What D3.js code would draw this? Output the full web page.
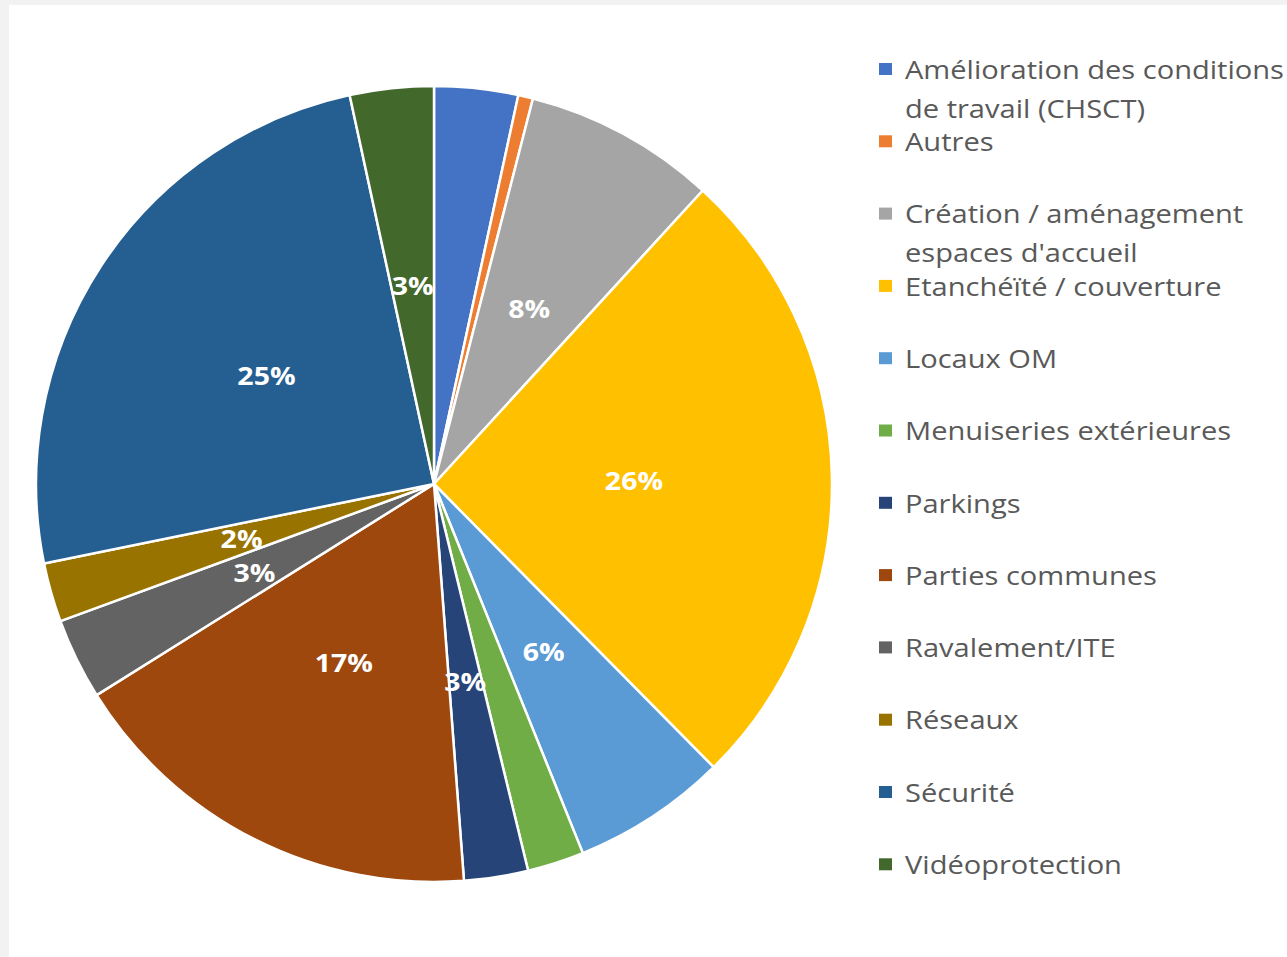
<!DOCTYPE html>
<html>
<head>
<meta charset="utf-8">
<script src="https://cdn.jsdelivr.net/npm/d3@7"></script>
<style>
  html, body { margin: 0; padding: 0; background: #f2f2f2; }
  svg { display: block; }
</style>
</head>
<body>
<svg id="chart" width="1287" height="957"></svg>
<script>
// Répartition des travaux par catégorie (en % du total)
const categories = [
  "Amélioration des conditions de travail (CHSCT)",
  "Autres",
  "Création / aménagement espaces d'accueil",
  "Etanchéïté / couverture",
  "Locaux OM",
  "Menuiseries extérieures",
  "Parkings",
  "Parties communes",
  "Ravalement/ITE",
  "Réseaux",
  "Sécurité",
  "Vidéoprotection"
];
const legendLines = [
  ["Amélioration des conditions", "de travail (CHSCT)"],
  ["Autres"],
  ["Création / aménagement", "espaces d'accueil"],
  ["Etanchéïté / couverture"],
  ["Locaux OM"],
  ["Menuiseries extérieures"],
  ["Parkings"],
  ["Parties communes"],
  ["Ravalement/ITE"],
  ["Réseaux"],
  ["Sécurité"],
  ["Vidéoprotection"]
];
const values = [3.4, 0.6, 7.8, 25.8, 6.3, 2.3, 2.6, 17.3, 3.3, 2.4, 24.8, 3.4];
const showLabel = [false, false, true, true, true, false, true, true, true, true, true, true];
const colors = ["#4472C4", "#ED7D31", "#A5A5A5", "#FFC000", "#5B9BD5", "#70AD47",
                "#264478", "#9E480E", "#636363", "#997300", "#255E91", "#43682B"];

const svg = d3.select("#chart");

// white chart area
svg.append("rect").attr("x", 9).attr("y", 5).attr("width", 1278).attr("height", 952).attr("fill", "#ffffff");

const cx = 434, cy = 484, R = 398;
const total = d3.sum(values);
const data = categories.map((c, i) => ({ name: c, value: values[i], i }));

const pie = d3.pie().value(d => d.value).sort(null);
const arcs = pie(data);
const arc = d3.arc().innerRadius(0).outerRadius(R);
const labelArc = d3.arc().innerRadius(200).outerRadius(200);
const color = d3.scaleOrdinal().domain(categories).range(colors);

const g = svg.append("g").attr("transform", `translate(${cx},${cy})`);
g.selectAll("path.slice").data(arcs).join("path")
  .attr("class", "slice")
  .attr("d", arc)
  .attr("fill", d => color(d.data.name))
  .attr("stroke", "#ffffff")
  .attr("stroke-width", 2.5)
  .attr("stroke-linejoin", "round");

// text is drawn slightly widened horizontally
const stretch = 1.14;

g.selectAll("text.lbl").data(arcs.filter(d => showLabel[d.data.i])).join("text")
  .attr("class", "lbl")
  .attr("transform", d => `translate(${labelArc.centroid(d)}) scale(${stretch},1)`)
  .attr("text-anchor", "middle")
  .attr("dominant-baseline", "central")
  .attr("font-family", "'Open Sans', sans-serif")
  .attr("font-weight", "bold")
  .attr("font-size", 25)
  .attr("fill", "#ffffff")
  .text(d => Math.round(d.data.value / total * 100) + "%");

// legend
const ly = d3.scalePoint().domain(categories).range([69, 864.3]);
const legend = svg.append("g");
const items = legend.selectAll("g.item").data(categories).join("g")
  .attr("class", "item")
  .attr("transform", d => `translate(879,${ly(d)})`);
items.append("rect")
  .attr("x", 0).attr("y", -6).attr("width", 13).attr("height", 12)
  .attr("fill", d => color(d));
items.append("text")
  .attr("transform", `translate(26,0) scale(${stretch},1)`)
  .attr("font-family", "'Open Sans', sans-serif")
  .attr("font-size", 25.5)
  .attr("fill", "#595959")
  .selectAll("tspan").data((d, i) => legendLines[i]).join("tspan")
  .attr("x", 0)
  .attr("y", (d, j) => j * 39)
  .attr("dominant-baseline", "central")
  .text(d => d);
</script>
</body>
</html>
